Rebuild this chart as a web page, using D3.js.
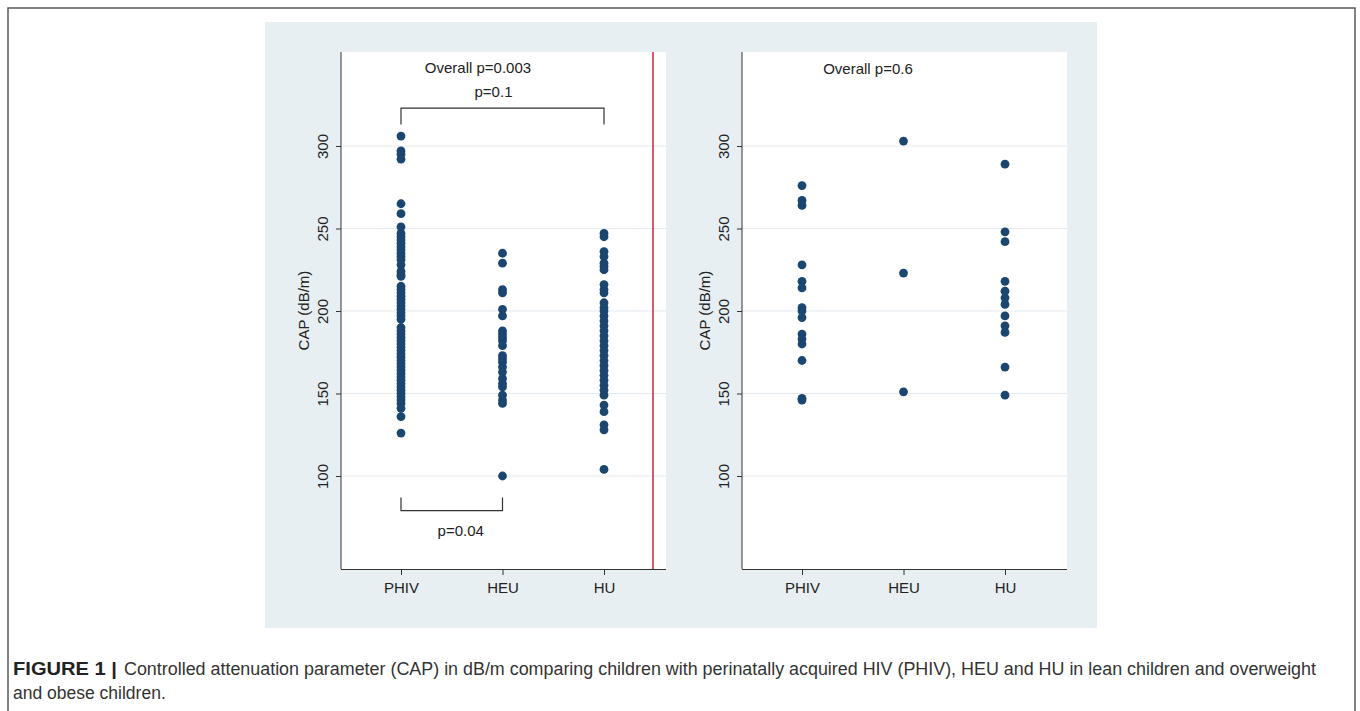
<!DOCTYPE html>
<html>
<head>
<meta charset="utf-8">
<script src="https://cdn.jsdelivr.net/npm/d3@7"></script>
<style>
	body { margin: 0; background: #fff; }
	svg text { font-family: "Liberation Sans", Arial, sans-serif; }
</style>
</head>
<body>
<div id="chart"></div>
<script>
// groups on the x axis
var groups = ["PHIV", "HEU", "HU"];
var yTicks = [100, 150, 200, 250, 300];

// lean children (left panel), CAP in dB/m
var leanPHIV = [306, 297, 295, 292, 265, 259, 251, 247, 245, 243, 241, 239, 237, 235, 233, 231, 228, 224, 222, 221,
	215, 213, 211, 209, 207, 205, 203, 201, 199, 197, 195, 190, 188, 186, 184, 182, 180, 178, 176, 174,
	172, 170, 168, 166, 164, 162, 160, 158, 156, 154, 152, 150, 148, 146, 144, 141, 136, 126];
var leanHEU = [235, 229, 213, 211, 201, 197, 188, 186, 184, 182, 179, 173, 171, 169, 166, 163, 159, 156, 154, 149, 146, 144, 100];
var leanHU = [247, 245, 236, 233, 229, 227, 225, 216, 213, 211, 205, 202, 200, 197, 194, 191, 188, 185, 182, 179,
	176, 173, 170, 167, 164, 161, 158, 155, 152, 149, 143, 139, 131, 128, 104];

// overweight and obese children (right panel)
var obesePHIV = [276, 267, 264, 228, 218, 214, 202, 200, 196, 186, 183, 180, 170, 147, 146];
var obeseHEU = [303, 223, 151];
var obeseHU = [289, 248, 242, 218, 212, 208, 204, 197, 191, 187, 166, 149];

var panelTitles = ["Overall p=0.003", "Overall p=0.6"];
// pairwise comparisons on the left panel: [from, to, level, tickTo, label, labelLevel]
var brackets = [
	["PHIV", "HU", 323, 313, "p=0.1", 330],
	["PHIV", "HEU", 79, 87, "p=0.04", 63.5]
];

(function(){
	'use strict';

	var width = 1360, height = 711;
	var dotColor = "#1a4670";
	var labelShift = [-9, 9]; // stata placed the p labels a bit off centre

	var svg = d3.select("#chart").append("svg")
		.attr("width", width)
		.attr("height", height);

	// figure frame
	svg.append("path")
		.attr("d", "M8,711 V8 H1355 V711")
		.attr("fill", "none")
		.attr("stroke", "#5a5a5a")
		.attr("stroke-width", 1.5);

	// graph region background
	svg.append("rect")
		.attr("x", 265).attr("y", 22)
		.attr("width", 832).attr("height", 606)
		.attr("fill", "#e8eff2");

	var plotTop = 52, plotBottom = 569, plotW = 325;

	var y = d3.scaleLinear()
		.domain([100, 300])
		.range([476, 146]);

	var x = d3.scalePoint()
		.domain(groups)
		.range([60, 263]);

	makePanel(341, [leanPHIV, leanHEU, leanHU], panelTitles[0], true);
	makePanel(742, [obesePHIV, obeseHEU, obeseHU], panelTitles[1], false);

	function makePanel(left, series, title, isLean){
		var g = svg.append("g").attr("transform", "translate(" + left + ",0)");

		g.append("rect")
			.attr("x", 0).attr("y", plotTop)
			.attr("width", plotW).attr("height", plotBottom - plotTop)
			.attr("fill", "#fff");

		// grid lines
		g.append("g").selectAll("line")
			.data(yTicks)
		  .enter().append("line")
			.attr("x1", 0).attr("x2", plotW)
			.attr("y1", y).attr("y2", y)
			.attr("stroke", "#e3ebf0")
			.attr("stroke-width", 1.2);

		// y axis
		var yAxis = d3.axisLeft(y).tickValues(yTicks).tickSize(5).tickPadding(8);
		var ya = g.append("g").call(yAxis);
		ya.select(".domain").remove();
		ya.selectAll(".tick line").attr("stroke", "#333");
		ya.selectAll(".tick text")
			.attr("font-size", 15)
			.attr("fill", "#222")
			.attr("text-anchor", "middle")
			.attr("x", null).attr("dy", null)
			.attr("transform", "translate(-13,0) rotate(-90)");
		g.append("line")
			.attr("x1", 0).attr("x2", 0)
			.attr("y1", plotTop).attr("y2", plotBottom)
			.attr("stroke", "#333");

		g.append("text")
			.attr("transform", "translate(-32," + ((plotTop + plotBottom) / 2) + ") rotate(-90)")
			.attr("text-anchor", "middle")
			.attr("font-size", 15)
			.attr("fill", "#222")
			.text("CAP (dB/m)");

		// x axis
		var xa = g.append("g")
			.attr("transform", "translate(0," + plotBottom + ")")
			.call(d3.axisBottom(x).tickSize(6).tickPadding(7));
		xa.select(".domain").attr("d", "M0,0.5H" + plotW).attr("stroke", "#333");
		xa.selectAll(".tick line").attr("stroke", "#333");
		xa.selectAll(".tick text").attr("font-size", 15).attr("fill", "#222");

		// points
		series.forEach(function(vals, i){
			g.append("g").selectAll("circle")
				.data(vals)
			  .enter().append("circle")
				.attr("cx", x(groups[i]))
				.attr("cy", function(d){ return y(d); })
				.attr("r", 4.4)
				.attr("fill", dotColor);
		});

		g.append("text")
			.attr("x", isLean ? 137 : 126)
			.attr("y", isLean ? 73 : 74)
			.attr("text-anchor", "middle")
			.attr("font-size", 15)
			.attr("fill", "#222")
			.text(title);

		if(isLean){
			brackets.forEach(function(b, i){
				var x1 = x(b[0]), x2 = x(b[1]);
				g.append("path")
					.attr("d", "M" + x1 + "," + y(b[3]) + "V" + y(b[2]) + "H" + x2 + "V" + y(b[3]))
					.attr("fill", "none")
					.attr("stroke", "#333")
					.attr("stroke-width", 1.2);
				g.append("text")
					.attr("x", (x1 + x2) / 2 + labelShift[i])
					.attr("y", y(b[5]))
					.attr("text-anchor", "middle")
					.attr("font-size", 15)
					.attr("fill", "#222")
					.text(b[4]);
			});

			// red separator line
			g.append("line")
				.attr("x1", 312).attr("x2", 312)
				.attr("y1", plotTop).attr("y2", plotBottom)
				.attr("stroke", "#cc2233")
				.attr("stroke-width", 1.5);
		}
	}

	// caption
	var cap = svg.append("text")
		.attr("y", 675)
		.attr("font-size", 17.5)
		.attr("fill", "#333");
	cap.append("tspan")
		.attr("x", 13)
		.attr("textLength", 104)
		.attr("lengthAdjust", "spacingAndGlyphs")
		.attr("font-weight", "bold").attr("fill", "#222")
		.text("FIGURE 1 |");
	cap.append("tspan")
		.attr("x", 124)
		.attr("textLength", 1192)
		.attr("lengthAdjust", "spacingAndGlyphs")
		.text("Controlled attenuation parameter (CAP) in dB/m comparing children with perinatally acquired HIV (PHIV), HEU and HU in lean children and overweight");
	svg.append("text")
		.attr("x", 13).attr("y", 699)
		.attr("font-size", 17.5)
		.attr("fill", "#333")
		.text("and obese children.");
})();
</script>
</body>
</html>
